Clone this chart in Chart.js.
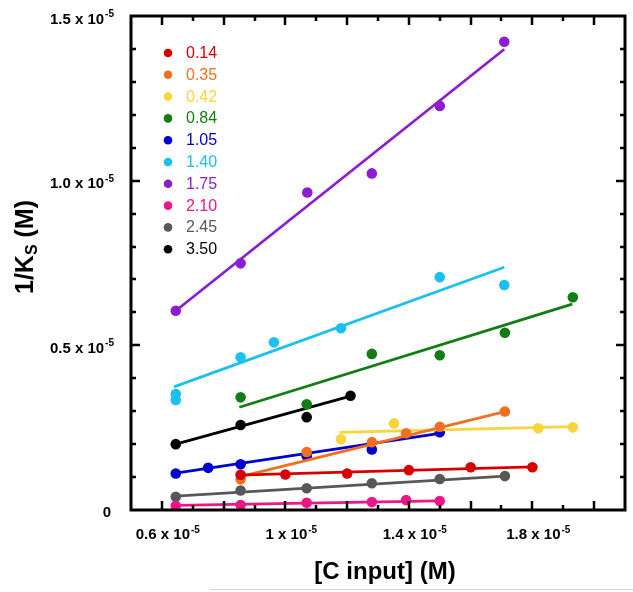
<!DOCTYPE html>
<html>
<head>
<meta charset="utf-8">
<script src="https://cdn.jsdelivr.net/npm/chart.js@4.4.1/dist/chart.umd.min.js"></script>
<style>
html, body { margin: 0; padding: 0; background: #fff; }
#wrap { position: relative; width: 633px; height: 592px; }
#edge { position: absolute; left: 210px; top: 589px; width: 423px; height: 1px; background: #d4d4d4; }
</style>
</head>
<body>
<div id="wrap">
  <canvas id="ksChart" width="633" height="592"></canvas>
  <div id="edge"></div>
</div>
<script>
// values in units of 10^-5 M
const seriesLabels = ['0.14', '0.35', '0.42', '0.84', '1.05', '1.40', '1.75', '2.10', '2.45', '3.50'];
const seriesColors = ['rgb(214,0,0)', 'rgb(240,112,32)', 'rgb(250,212,60)', 'rgb(18,125,18)', 'rgb(0,0,205)',
                      'rgb(28,192,240)', 'rgb(140,30,210)', 'rgb(236,22,136)', 'rgb(88,88,88)', 'rgb(0,0,0)'];

const x014 = [0.855, 1.0, 1.2, 1.4, 1.6, 1.8];
const y014 = [0.107, 0.108, 0.111, 0.121, 0.130, 0.130];
const x035 = [0.855, 1.069, 1.28, 1.391, 1.50, 1.711];
const y035 = [0.093, 0.176, 0.206, 0.233, 0.253, 0.299];
const x042 = [1.18, 1.352, 1.819, 1.931];
const y042 = [0.215, 0.263, 0.248, 0.251];
const x084 = [0.855, 1.069, 1.28, 1.50, 1.711, 1.931];
const y084 = [0.342, 0.321, 0.474, 0.470, 0.538, 0.646];
const x105 = [0.645, 0.750, 0.855, 1.069, 1.28, 1.50];
const y105 = [0.111, 0.128, 0.139, 0.164, 0.184, 0.236];
const x140 = [0.645, 0.645, 0.855, 0.963, 1.18, 1.50, 1.709];
const y140 = [0.352, 0.334, 0.464, 0.509, 0.552, 0.707, 0.683];
const x175 = [0.645, 0.855, 1.071, 1.28, 1.50, 1.709];
const y175 = [0.605, 0.749, 0.964, 1.022, 1.227, 1.422];
const x210 = [0.645, 0.855, 1.069, 1.28, 1.391, 1.50];
const y210 = [0.013, 0.015, 0.022, 0.024, 0.030, 0.027];
const x245 = [0.645, 0.855, 1.069, 1.28, 1.50, 1.711];
const y245 = [0.040, 0.059, 0.066, 0.081, 0.094, 0.103];
const x350 = [0.645, 0.855, 1.069, 1.211];
const y350 = [0.200, 0.258, 0.282, 0.347];

// fitted lines: [x1, y1, x2, y2]
const fit014 = [0.848, 0.106, 1.80, 0.131];
const fit035 = [0.848, 0.100, 1.711, 0.299];
const fit042 = [1.175, 0.236, 1.931, 0.253];
const fit084 = [0.851, 0.312, 1.929, 0.625];
const fit105 = [0.645, 0.112, 1.50, 0.233];
const fit140 = [0.639, 0.374, 1.709, 0.737];
const fit175 = [0.645, 0.605, 1.709, 1.399];
const fit210 = [0.645, 0.014, 1.50, 0.028];
const fit245 = [0.645, 0.042, 1.711, 0.103];
const fit350 = [0.645, 0.200, 1.211, 0.346];

const xTickLabels = [0.6, 1.0, 1.4, 1.8];
const xTickText = ['0.6', '1', '1.4', '1.8'];
const yTickLabels = [0, 0.5, 1.0, 1.5];
const yTickText = ['0', '0.5', '1.0', '1.5'];

const xsAll = [x014, x035, x042, x084, x105, x140, x175, x210, x245, x350];
const ysAll = [y014, y035, y042, y084, y105, y140, y175, y210, y245, y350];
const fitsAll = [fit014, fit035, fit042, fit084, fit105, fit140, fit175, fit210, fit245, fit350];

const datasets = [];
seriesLabels.forEach((lab, i) => {
    datasets.push({
        label: lab + ' fit',
        data: [{ x: fitsAll[i][0], y: fitsAll[i][1] }, { x: fitsAll[i][2], y: fitsAll[i][3] }],
        showLine: true,
        borderColor: seriesColors[i],
        borderWidth: 2.8,
        pointRadius: 0,
        fill: false
    });
    datasets.push({
        label: lab,
        data: xsAll[i].map((x, k) => ({ x: x, y: ysAll[i][k] })),
        showLine: false,
        backgroundColor: seriesColors[i],
        borderColor: seriesColors[i],
        pointRadius: 5.3,
        pointBorderWidth: 0
    });
});

const BOLD = '"Liberation Sans", Arial, sans-serif';

function drawSup(ctx, base, sup, x, y, align) {
    // y is baseline of the base text
    ctx.font = 'bold 15px ' + BOLD;
    const wb = ctx.measureText(base).width;
    ctx.font = 'bold 10px ' + BOLD;
    const ws = ctx.measureText(sup).width;
    let left;
    if (align === 'right') left = x - wb - ws - 1;
    else left = x - wb / 2;
    ctx.textAlign = 'left';
    ctx.textBaseline = 'alphabetic';
    ctx.font = 'bold 15px ' + BOLD;
    ctx.fillText(base, left, y);
    ctx.font = 'bold 10px ' + BOLD;
    ctx.fillText(sup, left + wb + 1, y - 6.5);
}

const framePlugin = {
    id: 'frame',
    afterDraw(chart) {
        const ctx = chart.ctx;
        const a = chart.chartArea;
        const xs = chart.scales.x, ys = chart.scales.y;
        ctx.save();
        ctx.strokeStyle = '#000';
        ctx.fillStyle = '#000';
        ctx.lineWidth = 3;
        ctx.strokeRect(a.left, a.top, a.right - a.left, a.bottom - a.top);

        ctx.lineWidth = 2.5;
        ctx.beginPath();
        for (let k = 6; k <= 20; k++) {
            const px = Math.round(xs.getPixelForValue(k / 10));
            const len = k % 2 === 0 ? 9 : 5;
            ctx.moveTo(px, a.bottom); ctx.lineTo(px, a.bottom - len);
            ctx.moveTo(px, a.top); ctx.lineTo(px, a.top + len);
        }
        for (let k = 1; k <= 14; k++) {
            const py = Math.round(ys.getPixelForValue(k / 10));
            const len = k % 5 === 0 ? 9 : 5;
            ctx.moveTo(a.left, py); ctx.lineTo(a.left + len, py);
            ctx.moveTo(a.right, py); ctx.lineTo(a.right - len, py);
        }
        ctx.stroke();

        // x tick labels
        xTickLabels.forEach((v, i) => {
            const px = xs.getPixelForValue(v);
            drawSup(ctx, xTickText[i] + ' x 10', '-5', px + 1, 539, 'center');
        });
        // y tick labels
        yTickLabels.forEach((v, i) => {
            const py = ys.getPixelForValue(v);
            if (v === 0) {
                ctx.font = 'bold 15px ' + BOLD;
                ctx.textAlign = 'right';
                ctx.textBaseline = 'alphabetic';
                ctx.fillText('0', 111, py + 7);
            } else {
                drawSup(ctx, yTickText[i] + ' x 10', '-5', 114, py + 7.5, 'right');
            }
        });

        // x title
        ctx.font = 'bold 24px ' + BOLD;
        ctx.textAlign = 'center';
        ctx.textBaseline = 'middle';
        ctx.fillText('[C input] (M)', 385, 572);

        // y title 1/K_S (M)
        ctx.translate(24, 247);
        ctx.rotate(-Math.PI / 2);
        ctx.font = 'bold 25px ' + BOLD;
        const w1 = ctx.measureText('1/K').width;
        const w3 = ctx.measureText(' (M)').width;
        ctx.font = 'bold 16px ' + BOLD;
        const w2 = ctx.measureText('S').width;
        let sx = -(w1 + w2 + w3) / 2;
        ctx.textAlign = 'left';
        ctx.textBaseline = 'alphabetic';
        ctx.font = 'bold 25px ' + BOLD;
        ctx.fillText('1/K', sx, 9);
        ctx.font = 'bold 16px ' + BOLD;
        ctx.fillText('S', sx + w1, 13);
        ctx.font = 'bold 25px ' + BOLD;
        ctx.fillText(' (M)', sx + w1 + w2, 9);
        ctx.restore();

        // legend
        ctx.save();
        ctx.font = '16px ' + BOLD;
        ctx.textAlign = 'left';
        ctx.textBaseline = 'middle';
        seriesLabels.forEach((lab, i) => {
            const ly = 53 + i * 21.8;
            ctx.fillStyle = seriesColors[i];
            ctx.beginPath();
            ctx.arc(168, ly, 4.3, 0, Math.PI * 2);
            ctx.fill();
            ctx.fillText(lab, 186, ly + 0.5);
        });
        ctx.restore();
    }
};

new Chart(document.getElementById('ksChart').getContext('2d'), {
    type: 'scatter',
    data: { datasets: datasets },
    options: {
        responsive: false,
        animation: false,
        devicePixelRatio: 1,
        layout: { padding: { left: 131, right: 8, top: 16, bottom: 82 } },
        plugins: { legend: { display: false }, tooltip: { enabled: false } },
        scales: {
            x: { type: 'linear', min: 0.5, max: 2.1, display: false },
            y: { type: 'linear', min: 0, max: 1.5, display: false }
        }
    },
    plugins: [framePlugin]
});
</script>
</body>
</html>
